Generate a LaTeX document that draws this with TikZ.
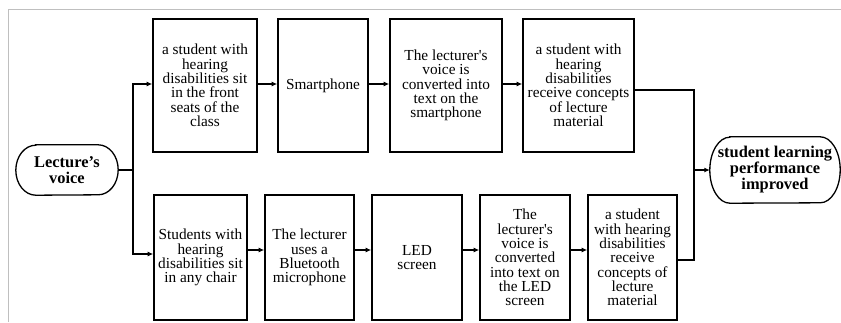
\documentclass[tikz,border=0pt]{standalone}
\usepackage{fontspec}
\setmainfont{Liberation Serif}
\usetikzlibrary{arrows.meta}

% outline with half-elliptical ends around a node: #1 node, #2 end x-radius, #3 half height
\newcommand\termoutline[3]{%
  \draw[termline] ([xshift=#2]#1.north west) -- ([xshift=-#2]#1.north east)
    arc[start angle=90, end angle=-90, x radius=#2, y radius=#3]
    -- ([xshift=#2]#1.south west)
    arc[start angle=270, end angle=90, x radius=#2, y radius=#3] -- cycle;}

\begin{document}
\begin{tikzpicture}[x=1pt, y=-1pt,
  stepbox/.style={draw, line width=1.6pt, inner sep=0pt, align=center,
    font=\fontsize{15.3}{14.3}\selectfont},
  termtext/.style={inner sep=0pt, align=center,
    font=\fontsize{16.4}{16}\selectfont\bfseries},
  termline/.style={line width=1.3pt},
  link/.style={line width=1.5pt},
  arr/.style={link, -{Latex[length=5.5pt, width=5pt]}},
  frame/.style={draw=black!25, line width=0.9pt}]
\useasboundingbox (0,0) rectangle (841,322);

% light frame along the top and left edges
\draw[frame] (8,322) -- (8,9) -- (841,9);

% terminals
\node[termtext, minimum width=102pt, minimum height=50pt] (lv) at (67,170)
  {Lecture’s\\voice};
\termoutline{lv}{20pt}{25pt}
\node[termtext, minimum width=130pt, minimum height=66pt] (out) at (775,170)
  {student learning\\performance\\improved};
\termoutline{out}{20pt}{33pt}

% upper chain
\node[stepbox, minimum width=104pt, minimum height=133pt] (t1) at (205,85.5)
  {a student with\\hearing\\disabilities sit\\in the front\\seats of the\\class};
\node[stepbox, minimum width=90pt, minimum height=133pt] (t2) at (323,85.5)
  {Smartphone};
\node[stepbox, minimum width=112pt, minimum height=133pt] (t3) at (446,85.5)
  {The lecturer\textquotesingle s\\voice is\\converted into\\text on the\\smartphone};
\node[stepbox, minimum width=111pt, minimum height=133pt] (t4) at (578.5,85.5)
  {a student with\\hearing\\disabilities\\receive concepts\\of lecture\\material};

% lower chain
\node[stepbox, minimum width=93pt, minimum height=125pt] (b1) at (200.5,257.5)
  {Students with\\hearing\\disabilities sit\\in any chair};
\node[stepbox, minimum width=89pt, minimum height=125pt] (b2) at (309.5,257.5)
  {The lecturer\\uses a\\Bluetooth\\microphone};
\node[stepbox, minimum width=90pt, minimum height=125pt] (b3) at (417,257.5)
  {LED\\screen};
\node[stepbox, minimum width=90pt, minimum height=125pt] (b4) at (525,257.5)
  {The\\lecturer\textquotesingle s\\voice is\\converted\\into text on\\the LED\\screen};
\node[stepbox, minimum width=89pt, minimum height=125pt] (b5) at (632.5,257.5)
  {a student\\with hearing\\disabilities\\receive\\concepts of\\lecture\\material};

% split and merge points
\coordinate (sp) at (133,170);
\coordinate (mg) at (694,170);

% connectors
\draw[link] (lv.east) -- (sp);
\draw[arr] (sp) |- ([yshift=1.5pt]t1.west);
\draw[arr] (sp) |- ([yshift=3.5pt]b1.west);

\draw[arr] ([yshift=1.5pt]t1.east) -- ([yshift=1.5pt]t2.west);
\draw[arr] ([yshift=1.5pt]t2.east) -- ([yshift=1.5pt]t3.west);
\draw[arr] ([yshift=1.5pt]t3.east) -- ([yshift=1.5pt]t4.west);

\draw[arr] ([yshift=7.5pt]b1.east) -- ([yshift=7.5pt]b2.west);
\draw[arr] ([yshift=7.5pt]b2.east) -- ([yshift=7.5pt]b3.west);
\draw[arr] ([yshift=7.5pt]b3.east) -- ([yshift=7.5pt]b4.west);
\draw[arr] ([yshift=7.5pt]b4.east) -- ([yshift=7.5pt]b5.west);

\draw[link] ([yshift=-4.5pt]t4.east) -| (mg);
\draw[link] ([yshift=-2.5pt]b5.east) -| (mg);
\draw[arr] (mg) -- (out.west);
\end{tikzpicture}
\end{document}
